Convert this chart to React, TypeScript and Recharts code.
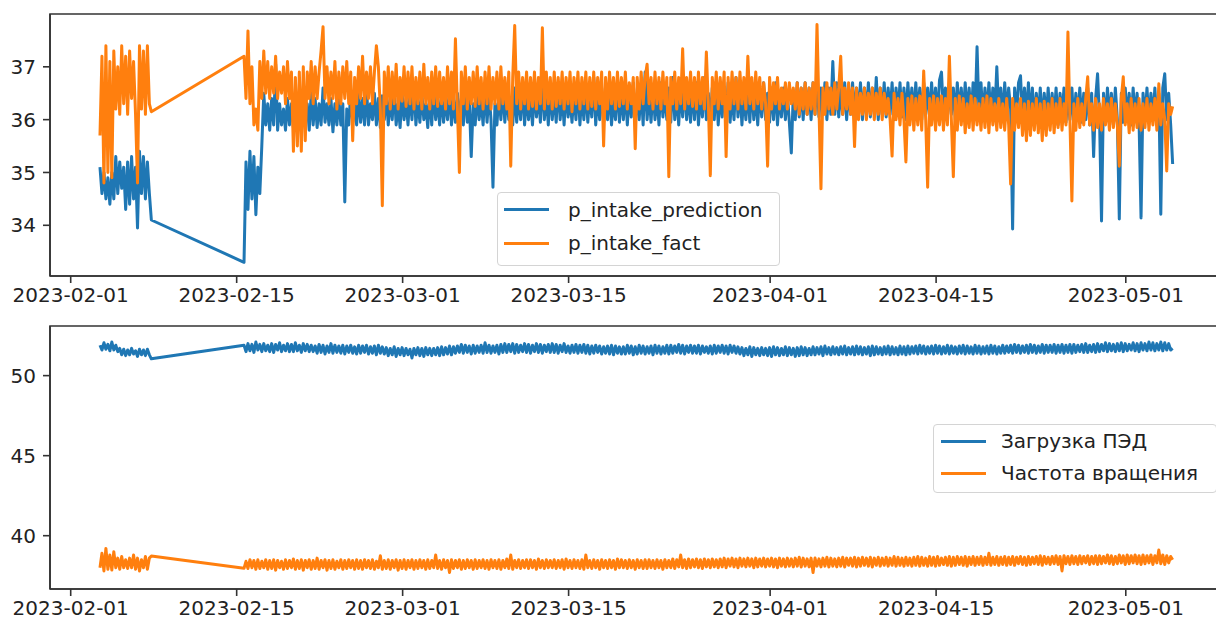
import { LineChart, Line, XAxis, YAxis, ReferenceArea } from "recharts"

// x is measured in days since 2023-02-01
const TICK_DAYS = [0, 14, 28, 42, 59, 73, 89]
const TICK_LABELS = ["2023-02-01", "2023-02-15", "2023-03-01", "2023-03-15", "2023-04-01", "2023-04-15", "2023-05-01"]

// two logging runs, one sample every 4 hours
const RUN1_START = 2.47
const RUN2_START = 14.62
const SAMPLE_STEP = 1 / 6

// p_intake_prediction
const predRun1 = [
  35.1, 34.6, 35.0, 34.5, 34.9, 34.4, 35.0, 34.5, 35.3, 34.6, 35.2, 34.7, 35.1, 34.3,
  35.2, 34.4, 35.3, 34.5, 35.1, 33.95, 35.4, 34.6, 35.3, 34.5, 35.2, 34.6, 34.1,
]
const predRun2 = [
  33.3, 35.2, 34.3, 35.4, 34.5, 35.3, 34.2, 35.1, 34.6, 35.5, 36.5, 35.9,
  36.3, 35.8, 36.4, 35.9, 37.05, 35.8, 36.3, 35.9, 36.2, 35.8, 36.4, 35.9,
  36.3, 35.85, 36.4, 35.9, 36.2, 35.8, 36.4, 35.95, 36.3, 35.8, 36.5, 35.9,
  36.4, 35.85, 36.3, 35.9, 36.6, 35.95, 36.3, 35.9, 36.4, 35.77, 36.3, 35.9,
  36.4, 35.9, 36.3, 34.44, 36.2, 35.9, 36.5, 35.95, 36.3, 35.9, 36.5, 35.95,
  36.4, 35.9, 36.6, 35.9, 36.3, 36.0, 36.5, 35.9, 36.4, 35.85, 36.45, 36.0,
  36.5, 35.9, 36.4, 36.0, 36.6, 35.9, 36.3, 35.85, 36.5, 36.0, 36.4, 35.9,
  36.5, 36.0, 36.7, 35.9, 36.4, 35.95, 36.5, 36.0, 36.3, 35.85, 36.5, 35.9,
  36.6, 36.0, 36.4, 35.9, 36.5, 35.95, 36.4, 36.0, 36.6, 35.9, 36.4, 35.95,
  36.5, 36.0, 36.4, 35.9, 36.6, 35.95, 36.4, 35.3, 36.3, 35.9, 36.5, 36.0,
  36.4, 35.9, 36.6, 35.95, 36.5, 36.0, 34.72, 36.3, 35.9, 36.5, 36.0, 36.6,
  35.95, 36.5, 36.0, 36.4, 35.9, 36.6, 35.95, 36.5, 36.0, 36.7, 35.9, 36.5,
  36.0, 36.4, 35.9, 36.6, 36.05, 36.5, 35.95, 36.8, 36.0, 36.5, 35.9, 36.6,
  36.0, 36.5, 35.95, 36.7, 36.0, 36.5, 35.9, 36.6, 36.05, 36.4, 35.95, 36.5,
  36.0, 36.7, 35.9, 36.5, 36.0, 36.6, 35.95, 36.5, 36.05, 36.8, 35.9, 36.5,
  36.0, 36.6, 35.95, 36.5, 36.0, 36.6, 35.9, 36.4, 36.0, 36.7, 35.95, 36.5,
  36.0, 36.6, 35.9, 36.5, 36.05, 36.7, 35.95, 36.5, 36.0, 36.6, 35.9, 36.9,
  36.0, 36.5, 35.95, 36.6, 36.0, 36.5, 35.9, 36.7, 36.05, 36.5, 36.0, 36.6,
  35.95, 36.8, 36.0, 36.5, 35.9, 36.6, 36.05, 36.7, 36.0, 36.5, 35.95, 36.6,
  36.0, 36.7, 35.9, 36.5, 36.05, 36.8, 36.0, 36.5, 35.95, 36.6, 36.0, 36.7,
  35.9, 36.5, 36.05, 36.6, 36.0, 36.7, 35.95, 36.5, 36.0, 36.8, 36.05, 36.6,
  35.9, 36.5, 36.0, 36.6, 35.95, 36.7, 36.0, 36.5, 35.9, 36.6, 36.05, 36.7,
  36.0, 36.5, 35.95, 36.6, 36.0, 36.7, 35.9, 36.5, 36.05, 36.6, 36.0, 36.5,
  35.95, 35.37, 36.5, 36.0, 36.7, 36.05, 36.6, 36.0, 36.7, 36.1, 36.6, 36.0,
  36.7, 36.1, 36.8, 36.05, 36.6, 36.1, 36.7, 36.0, 36.6, 36.1, 37.1, 36.1,
  36.7, 36.05, 36.6, 36.1, 36.7, 36.0, 36.6, 36.1, 36.7, 36.05, 36.6, 36.1,
  36.7, 36.0, 36.6, 36.1, 36.7, 36.05, 36.6, 36.1, 36.8, 36.0, 36.6, 36.1,
  36.7, 36.05, 36.6, 36.1, 36.7, 36.0, 36.6, 36.1, 36.7, 36.05, 36.6, 36.0,
  36.7, 36.1, 36.6, 36.05, 36.7, 36.1, 36.6, 36.0, 36.7, 36.1, 36.6, 36.05,
  36.7, 36.1, 36.6, 36.0, 36.75, 36.9, 36.1, 36.6, 36.05, 36.7, 36.1, 36.6,
  36.0, 36.7, 36.1, 36.6, 36.05, 36.7, 36.1, 36.6, 36.0, 36.7, 36.1, 37.38,
  36.1, 36.7, 36.0, 36.6, 36.1, 36.7, 36.05, 36.6, 36.1, 37.0, 36.1, 36.6,
  36.0, 36.7, 36.1, 36.6, 36.2, 33.93, 36.6, 36.1, 36.7, 36.83, 36.0, 36.6,
  36.05, 36.7, 36.0, 36.6, 35.95, 36.5, 36.0, 36.6, 35.9, 36.5, 36.0, 36.6,
  35.95, 36.5, 36.0, 36.6, 35.9, 36.5, 36.05, 36.6, 35.95, 36.5, 36.0, 36.6,
  35.9, 36.5, 36.0, 36.6, 35.95, 36.5, 36.0, 36.6, 35.9, 36.5, 35.3, 36.4,
  36.87, 36.0, 34.08, 36.5, 35.95, 36.6, 36.0, 36.5, 35.9, 36.6, 36.0, 34.12,
  36.5, 35.95, 36.6, 36.0, 36.5, 35.9, 36.6, 36.0, 36.5, 35.95, 34.14, 36.5,
  36.0, 36.6, 35.95, 36.5, 36.0, 36.6, 35.9, 36.5, 34.21, 36.6, 36.87, 36.0,
  36.5, 35.9, 35.16,
]

// p_intake_fact
const factRun1 = [
  35.7, 37.2, 34.8, 37.4, 35.0, 37.1, 34.9, 37.3, 36.2, 37.0, 36.1, 37.4, 36.3, 37.2,
  36.1, 37.3, 36.4, 37.1, 36.1, 34.8, 37.4, 36.2, 37.3, 36.1, 37.4, 36.3, 36.15,
]
const factRun2 = [
  37.2, 36.4, 37.68, 36.3, 37.0, 35.9, 36.2, 35.8, 37.1, 36.4, 37.3, 36.5,
  37.1, 36.4, 37.0, 36.5, 37.2, 36.4, 36.9, 36.5, 37.0, 36.3, 37.1, 36.4,
  36.9, 35.4, 36.8, 35.5, 36.9, 35.4, 37.0, 35.6, 36.9, 36.4, 37.1, 36.3,
  37.0, 36.4, 36.9, 37.3, 37.76, 36.4, 37.0, 36.3, 36.9, 36.4, 37.1, 36.2,
  36.9, 36.3, 37.0, 36.4, 37.1, 36.3, 36.9, 35.6, 36.8, 36.3, 37.0, 36.4,
  37.2, 36.3, 36.9, 36.4, 37.0, 36.3, 36.9, 37.4, 37.0, 36.2, 34.37, 36.9,
  36.3, 37.0, 36.2, 36.9, 36.3, 37.05, 36.2, 36.8, 36.35, 37.0, 36.25, 36.9,
  36.3, 37.0, 36.2, 36.8, 36.3, 36.9, 36.2, 37.05, 36.3, 36.8, 36.2, 36.9,
  36.3, 37.0, 36.25, 36.9, 36.3, 36.8, 36.2, 37.0, 36.3, 36.9, 36.2, 37.53,
  36.2, 35.0, 36.9, 36.3, 37.0, 36.2, 36.8, 36.3, 36.9, 36.25, 37.0, 36.3,
  36.8, 36.2, 36.9, 36.3, 37.0, 36.2, 36.8, 36.3, 36.9, 36.2, 37.0, 36.3,
  36.8, 36.2, 36.9, 35.12, 36.8, 37.78, 36.3, 36.9, 36.2, 36.8, 36.3, 36.9,
  36.2, 36.8, 36.25, 36.9, 36.2, 36.8, 36.3, 37.74, 36.2, 36.9, 36.3, 36.8,
  36.2, 36.9, 36.25, 36.8, 36.3, 36.9, 36.2, 36.8, 36.3, 36.9, 36.15, 36.8,
  36.3, 36.9, 36.2, 36.8, 36.3, 36.9, 36.2, 36.8, 36.25, 36.9, 36.2, 36.8,
  36.3, 36.9, 35.5, 36.8, 36.2, 36.9, 36.3, 36.8, 36.2, 36.9, 36.25, 36.8,
  36.3, 36.9, 36.2, 36.7, 36.3, 36.8, 35.45, 36.8, 36.2, 36.9, 36.3, 36.8,
  37.05, 36.3, 36.8, 36.2, 36.9, 36.3, 36.8, 36.2, 36.9, 36.3, 36.8, 34.92,
  36.8, 36.3, 36.9, 36.2, 36.8, 36.3, 37.34, 36.2, 36.8, 36.3, 36.9, 36.25,
  36.8, 36.2, 36.9, 36.3, 36.8, 36.2, 37.28, 36.3, 34.94, 36.8, 36.3, 36.9,
  36.2, 36.8, 36.3, 36.9, 35.3, 36.8, 36.2, 36.9, 36.3, 36.8, 36.2, 36.9,
  36.3, 36.8, 36.2, 37.2, 36.3, 36.8, 36.2, 36.9, 36.3, 36.8, 36.2, 36.7,
  36.3, 35.12, 36.8, 36.2, 36.7, 36.3, 36.8, 36.2, 36.6, 36.3, 36.7, 36.2,
  36.7, 36.3, 36.6, 36.2, 36.7, 36.1, 36.6, 36.2, 36.7, 36.1, 36.6, 36.2,
  36.7, 36.1, 37.8, 36.2, 34.69, 36.6, 36.1, 36.7, 36.2, 36.6, 36.1, 36.7,
  36.2, 36.6, 37.2, 36.1, 36.6, 36.2, 36.7, 36.1, 36.6, 35.49, 36.6, 36.0,
  36.5, 36.1, 36.6, 36.0, 36.5, 36.1, 36.6, 36.0, 36.5, 36.1, 36.6, 36.0,
  36.5, 36.1, 36.4, 36.0, 35.31, 36.5, 36.0, 36.4, 35.9, 36.5, 36.0, 35.2,
  36.4, 35.9, 36.45, 35.8, 36.4, 35.9, 36.45, 35.8, 36.92, 36.0, 34.72, 36.4,
  35.9, 36.45, 35.8, 36.4, 35.9, 36.45, 35.8, 36.4, 35.9, 37.2, 36.0, 34.92,
  36.4, 35.8, 36.45, 35.9, 36.4, 35.75, 36.3, 35.85, 36.45, 35.8, 36.4, 35.9,
  36.3, 35.8, 36.4, 35.85, 36.45, 35.75, 36.4, 35.9, 36.3, 35.8, 36.4, 35.85,
  36.3, 35.8, 36.4, 35.9, 34.78, 36.4, 35.8, 36.3, 35.85, 36.4, 35.7, 36.3,
  35.6, 36.35, 35.7, 36.3, 35.8, 36.4, 35.75, 36.3, 35.6, 36.35, 35.7, 36.3,
  35.8, 36.4, 35.75, 36.3, 35.85, 36.4, 35.8, 36.3, 35.9, 37.66, 36.0, 34.46,
  36.3, 35.8, 36.4, 35.85, 36.3, 35.9, 36.4, 36.81, 35.9, 36.3, 35.8, 36.4,
  35.85, 36.3, 35.8, 36.4, 35.9, 36.3, 35.8, 36.4, 35.85, 36.3, 35.9, 35.12,
  36.4, 36.81, 35.9, 36.3, 35.75, 36.4, 35.8, 36.3, 35.85, 36.4, 35.8, 36.3,
  35.85, 36.4, 35.8, 36.3, 35.9, 36.4, 35.8, 36.68, 35.9, 36.3, 36.0, 35.03,
  36.3, 36.1, 36.25,
]

// Загрузка ПЭД
const loadRun1 = [
  51.9, 51.6, 52.05, 51.65, 51.95, 51.55, 52.1, 51.6, 51.9, 51.5, 51.7, 51.3, 51.65, 51.25,
  51.6, 51.3, 51.7, 51.35, 51.55, 51.2, 51.65, 51.3, 51.6, 51.25, 51.65, 51.3, 51.05,
]
const loadRun2 = [
  51.9, 51.5, 52.0, 51.55, 51.95, 51.45, 52.1, 51.6, 51.95, 51.5, 52.0, 51.55,
  51.9, 51.5, 52.0, 51.45, 51.95, 51.6, 52.05, 51.5, 51.9, 51.55, 52.0, 51.5,
  51.95, 51.5, 52.05, 51.55, 51.9, 51.45, 52.0, 51.55, 51.95, 51.5, 51.9, 51.5,
  51.85, 51.4, 51.95, 51.45, 51.9, 51.35, 51.85, 51.45, 52.0, 51.4, 51.9, 51.45,
  51.85, 51.4, 51.9, 51.35, 51.85, 51.45, 51.9, 51.4, 51.8, 51.35, 51.9, 51.4,
  51.85, 51.45, 51.9, 51.35, 51.8, 51.4, 51.85, 51.3, 51.9, 51.4, 51.8, 51.35,
  51.75, 51.25, 51.7, 51.3, 51.8, 51.2, 51.7, 51.3, 51.75, 51.25, 51.7, 51.3,
  51.65, 51.1, 51.7, 51.3, 51.75, 51.25, 51.7, 51.2, 51.75, 51.3, 51.7, 51.25,
  51.7, 51.3, 51.75, 51.25, 51.8, 51.3, 51.75, 51.35, 51.85, 51.3, 51.8, 51.4,
  51.85, 51.45, 51.95, 51.4, 51.9, 51.45, 51.85, 51.35, 51.9, 51.4, 51.85, 51.45,
  51.9, 51.4, 52.05, 51.45, 51.9, 51.4, 51.85, 51.45, 51.9, 51.35, 51.95, 51.45,
  52.0, 51.45, 51.95, 51.5, 52.0, 51.4, 51.95, 51.45, 51.9, 51.5, 52.0, 51.45,
  51.95, 51.4, 51.9, 51.5, 52.0, 51.45, 51.95, 51.4, 51.9, 51.5, 51.95, 51.45,
  52.0, 51.45, 51.95, 51.4, 51.9, 51.5, 52.0, 51.45, 51.85, 51.4, 51.9, 51.45,
  51.95, 51.4, 51.9, 51.45, 51.95, 51.4, 51.9, 51.35, 51.85, 51.4, 51.9, 51.45,
  51.85, 51.35, 51.8, 51.4, 51.85, 51.35, 51.9, 51.3, 51.85, 51.4, 51.8, 51.35,
  51.8, 51.35, 51.9, 51.4, 51.85, 51.3, 51.8, 51.35, 51.9, 51.4, 51.85, 51.35,
  51.8, 51.4, 51.85, 51.3, 51.9, 51.4, 51.85, 51.35, 51.8, 51.4, 51.9, 51.35,
  51.9, 51.4, 51.85, 51.45, 51.95, 51.4, 51.9, 51.35, 51.85, 51.45, 51.9, 51.4,
  51.85, 51.4, 51.9, 51.35, 51.85, 51.45, 51.8, 51.4, 51.85, 51.35, 51.9, 51.4,
  51.85, 51.45, 51.9, 51.4, 51.85, 51.35, 51.9, 51.45, 51.85, 51.4, 51.8, 51.35,
  51.75, 51.25, 51.7, 51.3, 51.8, 51.2, 51.75, 51.3, 51.7, 51.25, 51.75, 51.3,
  51.7, 51.25, 51.75, 51.2, 51.8, 51.3, 51.75, 51.25, 51.7, 51.3, 51.8, 51.25,
  51.75, 51.3, 51.7, 51.2, 51.75, 51.25, 51.8, 51.3, 51.75, 51.25, 51.7, 51.3,
  51.8, 51.3, 51.75, 51.35, 51.8, 51.25, 51.85, 51.35, 51.75, 51.3, 51.8, 51.35,
  51.75, 51.3, 51.8, 51.35, 51.85, 51.3, 51.75, 51.35, 51.8, 51.3, 51.85, 51.35,
  51.8, 51.3, 51.75, 51.35, 51.8, 51.25, 51.85, 51.3, 51.8, 51.35, 51.75, 51.3,
  51.8, 51.35, 51.85, 51.3, 51.8, 51.35, 51.75, 51.3, 51.85, 51.35, 51.8, 51.3,
  51.85, 51.35, 51.8, 51.4, 51.85, 51.35, 51.9, 51.4, 51.85, 51.35, 51.8, 51.4,
  51.85, 51.35, 51.9, 51.4, 51.85, 51.35, 51.8, 51.4, 51.9, 51.35, 51.85, 51.4,
  51.8, 51.35, 51.85, 51.4, 51.9, 51.35, 51.85, 51.4, 51.8, 51.35, 51.9, 51.4,
  51.85, 51.35, 51.8, 51.4, 51.85, 51.35, 51.9, 51.4, 51.85, 51.35, 51.8, 51.4,
  51.9, 51.4, 51.85, 51.45, 51.9, 51.4, 51.95, 51.45, 51.9, 51.4, 51.85, 51.45,
  51.9, 51.4, 51.95, 51.45, 51.9, 51.4, 51.85, 51.45, 51.95, 51.4, 51.9, 51.45,
  51.9, 51.45, 51.95, 51.4, 51.9, 51.45, 51.95, 51.4, 51.9, 51.45, 51.95, 51.4,
  51.95, 51.45, 51.9, 51.5, 51.95, 51.45, 52.0, 51.45, 51.9, 51.5, 51.95, 51.45,
  52.0, 51.5, 51.95, 51.55, 52.05, 51.5, 52.0, 51.55, 51.95, 51.5, 52.0, 51.55,
  52.05, 51.5, 52.0, 51.55, 51.95, 51.6, 52.05, 51.55, 52.0, 51.5, 52.05, 51.6,
  52.0, 51.55, 52.1, 51.6, 52.05, 51.55, 52.0, 51.6, 52.1, 51.55, 52.05, 51.6,
  52.0, 51.6, 51.7,
]

// Частота вращения
const freqRun1 = [
  38.0, 38.9, 37.8, 39.2, 37.9, 38.8, 37.85, 39.0, 38.0, 38.6, 37.9, 38.7, 38.0, 38.5,
  37.95, 38.6, 38.0, 38.8, 37.9, 38.6, 37.8, 38.5, 38.0, 38.7, 37.9, 38.6, 38.73,
]
const freqRun2 = [
  37.96, 38.4, 37.95, 38.5, 38.0, 38.45, 37.9, 38.5, 37.95, 38.4, 38.0, 38.5,
  37.9, 38.45, 37.95, 38.5, 37.85, 38.45, 38.0, 38.4, 37.9, 38.5, 37.95, 38.45,
  38.0, 38.55, 37.9, 38.45, 37.95, 38.5, 37.85, 38.45, 38.0, 38.5, 37.9, 38.45,
  37.95, 38.6, 37.9, 38.45, 38.0, 38.5, 37.85, 38.45, 37.95, 38.5, 37.9, 38.4,
  38.0, 38.5, 37.9, 38.45, 37.95, 38.5, 38.0, 38.45, 37.9, 38.5, 37.95, 38.45,
  37.9, 38.5, 38.0, 38.45, 37.95, 38.5, 37.9, 38.4, 38.0, 38.75, 37.9, 38.45,
  37.95, 38.5, 37.9, 38.45, 38.0, 38.5, 37.85, 38.45, 37.95, 38.5, 37.9, 38.45,
  38.0, 38.5, 37.9, 38.45, 37.95, 38.5, 38.0, 38.45, 37.9, 38.5, 37.95, 38.45,
  38.0, 38.8, 37.95, 38.45, 37.9, 38.5, 38.0, 38.45, 37.7, 38.5, 37.95, 38.45,
  38.0, 38.5, 37.9, 38.45, 37.95, 38.5, 38.0, 38.45, 37.9, 38.5, 37.95, 38.45,
  38.0, 38.5, 37.95, 38.45, 37.9, 38.5, 38.0, 38.45, 37.95, 38.5, 37.9, 38.45,
  38.0, 38.55, 37.95, 38.8, 37.9, 38.45, 38.0, 38.5, 37.95, 38.45, 38.0, 38.5,
  37.95, 38.5, 38.0, 38.45, 37.9, 38.55, 38.0, 38.45, 37.95, 38.5, 38.0, 38.45,
  38.0, 38.5, 37.95, 38.45, 38.0, 38.5, 37.9, 38.55, 38.0, 38.45, 37.95, 38.5,
  38.0, 38.45, 37.95, 38.5, 37.9, 38.8, 38.0, 38.45, 37.95, 38.5, 38.0, 38.45,
  37.9, 38.5, 38.0, 38.45, 37.95, 38.5, 38.0, 38.45, 37.9, 38.55, 38.0, 38.5,
  38.0, 38.45, 37.95, 38.5, 38.0, 38.45, 37.9, 38.5, 38.0, 38.45, 37.95, 38.5,
  37.95, 38.5, 38.0, 38.45, 37.95, 38.5, 38.0, 38.45, 37.9, 38.5, 38.0, 38.45,
  38.0, 38.55, 37.95, 38.5, 38.05, 38.8, 38.0, 38.5, 37.95, 38.55, 38.0, 38.5,
  38.05, 38.55, 38.0, 38.5, 37.95, 38.55, 38.05, 38.5, 38.0, 38.55, 38.05, 38.5,
  38.0, 38.55, 38.05, 38.6, 38.0, 38.55, 38.1, 38.6, 38.05, 38.55, 38.0, 38.6,
  38.1, 38.55, 38.05, 38.6, 38.1, 38.55, 38.0, 38.6, 38.05, 38.55, 38.1, 38.6,
  38.05, 38.55, 38.1, 38.6, 38.05, 38.55, 38.0, 38.6, 38.1, 38.55, 38.05, 38.6,
  38.1, 38.55, 38.05, 38.6, 38.1, 38.65, 38.05, 38.6, 38.1, 38.55, 38.05, 38.6,
  37.7, 38.6, 38.1, 38.55, 38.05, 38.6, 38.1, 38.65, 38.05, 38.6, 38.1, 38.55,
  38.05, 38.6, 38.1, 38.65, 38.05, 38.6, 38.15, 38.6, 38.1, 38.65, 38.05, 38.6,
  38.1, 38.65, 38.15, 38.6, 38.1, 38.65, 38.05, 38.6, 38.15, 38.65, 38.1, 38.6,
  38.15, 38.65, 38.1, 38.6, 38.15, 38.7, 38.1, 38.65, 38.15, 38.6, 38.1, 38.65,
  38.15, 38.6, 38.1, 38.65, 38.15, 38.7, 38.1, 38.65, 38.15, 38.6, 38.1, 38.7,
  38.15, 38.65, 38.1, 38.7, 38.15, 38.6, 38.2, 38.65, 38.15, 38.7, 38.1, 38.65,
  38.15, 38.7, 38.2, 38.65, 38.15, 38.7, 38.1, 38.65, 38.2, 38.7, 38.15, 38.65,
  38.2, 38.7, 38.15, 38.65, 38.2, 38.9, 38.15, 38.65, 38.2, 38.7, 38.15, 38.65,
  38.2, 38.7, 38.15, 38.65, 38.2, 38.7, 38.15, 38.65, 38.25, 38.7, 38.2, 38.65,
  38.15, 38.7, 38.2, 38.65, 38.25, 38.7, 38.2, 38.75, 38.15, 38.7, 38.25, 38.65,
  38.2, 38.7, 38.25, 38.75, 38.2, 38.7, 37.8, 38.75, 38.25, 38.7, 38.2, 38.75,
  38.25, 38.7, 38.2, 38.75, 38.25, 38.7, 38.3, 38.75, 38.2, 38.7, 38.25, 38.75,
  38.2, 38.75, 38.25, 38.7, 38.3, 38.8, 38.25, 38.75, 38.2, 38.7, 38.25, 38.8,
  38.3, 38.75, 38.2, 38.8, 38.25, 38.75, 38.3, 38.8, 38.25, 38.75, 38.2, 38.8,
  38.25, 38.75, 38.3, 38.8, 38.2, 38.75, 38.3, 39.1, 38.25, 38.8, 38.2, 38.75,
  38.3, 38.7, 38.5,
]

const TOP_Y_TICKS = [34, 35, 36, 37]
const BOTTOM_Y_TICKS = [40, 45, 50]

const BLUE = "#1f77b4"
const ORANGE = "#ff7f0e"
const INK = "#222"
const FRAME = "#333"
const X_DOMAIN: [number, number] = [-1.746, 97.2]
const TOP_Y_DOMAIN: [number, number] = [33.04, 38.0]
const BOTTOM_Y_DOMAIN: [number, number] = [36.67, 53.1]

const sampleDays = [
  ...predRun1.map((_, k) => RUN1_START + k * SAMPLE_STEP),
  ...predRun2.map((_, k) => RUN2_START + k * SAMPLE_STEP),
]
const pred = [...predRun1, ...predRun2]
const fact = [...factRun1, ...factRun2]
const load = [...loadRun1, ...loadRun2]
const freq = [...freqRun1, ...freqRun2]

const rows = sampleDays.map((t, k) => ({ t, pred: pred[k], fact: fact[k], load: load[k], freq: freq[k] }))

const tickFont = { fontFamily: "DejaVu Sans", fontSize: 20, fill: INK }
const axisStroke = { stroke: FRAME, strokeWidth: 1.6 }

const formatDay = (v: number) => TICK_LABELS[TICK_DAYS.indexOf(v)] ?? ""

type LegendItem = { name: string; color: string }

// boxed legend in the matplotlib style
const BoxLegend = ({ items, left, top, width, height, rowHeight, lineLeft, textGap }: any) => (
  <div
    style={{
      position: "absolute",
      left,
      top,
      width,
      height,
      boxSizing: "border-box",
      border: "1px solid #d4d4d4",
      borderRadius: 4,
      background: "rgba(255,255,255,0.8)",
      fontFamily: "DejaVu Sans",
      fontSize: 20,
      color: INK,
    }}
  >
    {items.map((it: LegendItem) => (
      <div key={it.name} style={{ display: "flex", alignItems: "center", height: rowHeight, whiteSpace: "nowrap" }}>
        <span style={{ display: "inline-block", marginLeft: lineLeft, width: 45, height: 3, background: it.color }} />
        <span style={{ marginLeft: textGap }}>{it.name}</span>
      </div>
    ))}
  </div>
)

const Frame = ({ y }: { y: [number, number] }) => (
  <ReferenceArea
    x1={X_DOMAIN[0]}
    x2={X_DOMAIN[1]}
    y1={y[0]}
    y2={y[1]}
    fill="none"
    stroke={FRAME}
    strokeWidth={1.6}
    ifOverflow="visible"
  />
)

const lineProps = { type: "linear" as const, strokeWidth: 3, strokeLinejoin: "round" as const, dot: false, isAnimationActive: false }

export default function App() {
  const topItems: LegendItem[] = [
    { name: "p_intake_prediction", color: BLUE },
    { name: "p_intake_fact", color: ORANGE },
  ]
  const bottomItems: LegendItem[] = [
    { name: "Загрузка ПЭД", color: BLUE },
    { name: "Частота вращения", color: ORANGE },
  ]

  return (
    <div style={{ position: "fixed", left: 0, top: 0, width: 1216, height: 622, overflow: "hidden", background: "#fff" }}>
      <div style={{ position: "absolute", left: 0, top: 0 }}>
        <LineChart width={1223} height={310} data={rows} margin={{ top: 14, right: 0, bottom: 0, left: 0 }}>
          <XAxis
            type="number"
            dataKey="t"
            domain={X_DOMAIN}
            allowDataOverflow
            ticks={TICK_DAYS}
            interval={0}
            tickFormatter={formatDay}
            height={34}
            tickSize={7}
            tickMargin={5}
            tick={tickFont}
            axisLine={axisStroke}
            tickLine={axisStroke}
          />
          <YAxis
            type="number"
            domain={TOP_Y_DOMAIN}
            allowDataOverflow
            ticks={TOP_Y_TICKS}
            interval={0}
            width={50}
            tickSize={7}
            tickMargin={7}
            tick={tickFont}
            axisLine={axisStroke}
            tickLine={axisStroke}
          />
          <Line {...lineProps} dataKey="pred" name="p_intake_prediction" stroke={BLUE} />
          <Line {...lineProps} dataKey="fact" name="p_intake_fact" stroke={ORANGE} />
          <Frame y={TOP_Y_DOMAIN} />
        </LineChart>
      </div>

      <div style={{ position: "absolute", left: 0, top: 310 }}>
        <LineChart width={1223} height={312} data={rows} margin={{ top: 16, right: 0, bottom: 0, left: 0 }}>
          <XAxis
            type="number"
            dataKey="t"
            domain={X_DOMAIN}
            allowDataOverflow
            ticks={TICK_DAYS}
            interval={0}
            tickFormatter={formatDay}
            height={33}
            tickSize={7}
            tickMargin={5}
            tick={tickFont}
            axisLine={axisStroke}
            tickLine={axisStroke}
          />
          <YAxis
            type="number"
            domain={BOTTOM_Y_DOMAIN}
            allowDataOverflow
            ticks={BOTTOM_Y_TICKS}
            interval={0}
            width={50}
            tickSize={7}
            tickMargin={7}
            tick={tickFont}
            axisLine={axisStroke}
            tickLine={axisStroke}
          />
          <Line {...lineProps} dataKey="load" name="Загрузка ПЭД" stroke={BLUE} />
          <Line {...lineProps} dataKey="freq" name="Частота вращения" stroke={ORANGE} />
          <Frame y={BOTTOM_Y_DOMAIN} />
        </LineChart>
      </div>

      <BoxLegend items={topItems} left={497} top={192} width={283} height={74} rowHeight={33.4} lineLeft={6} textGap={19} />
      <BoxLegend items={bottomItems} left={933} top={424} width={284} height={69} rowHeight={32.3} lineLeft={7} textGap={15} />
    </div>
  )
}
